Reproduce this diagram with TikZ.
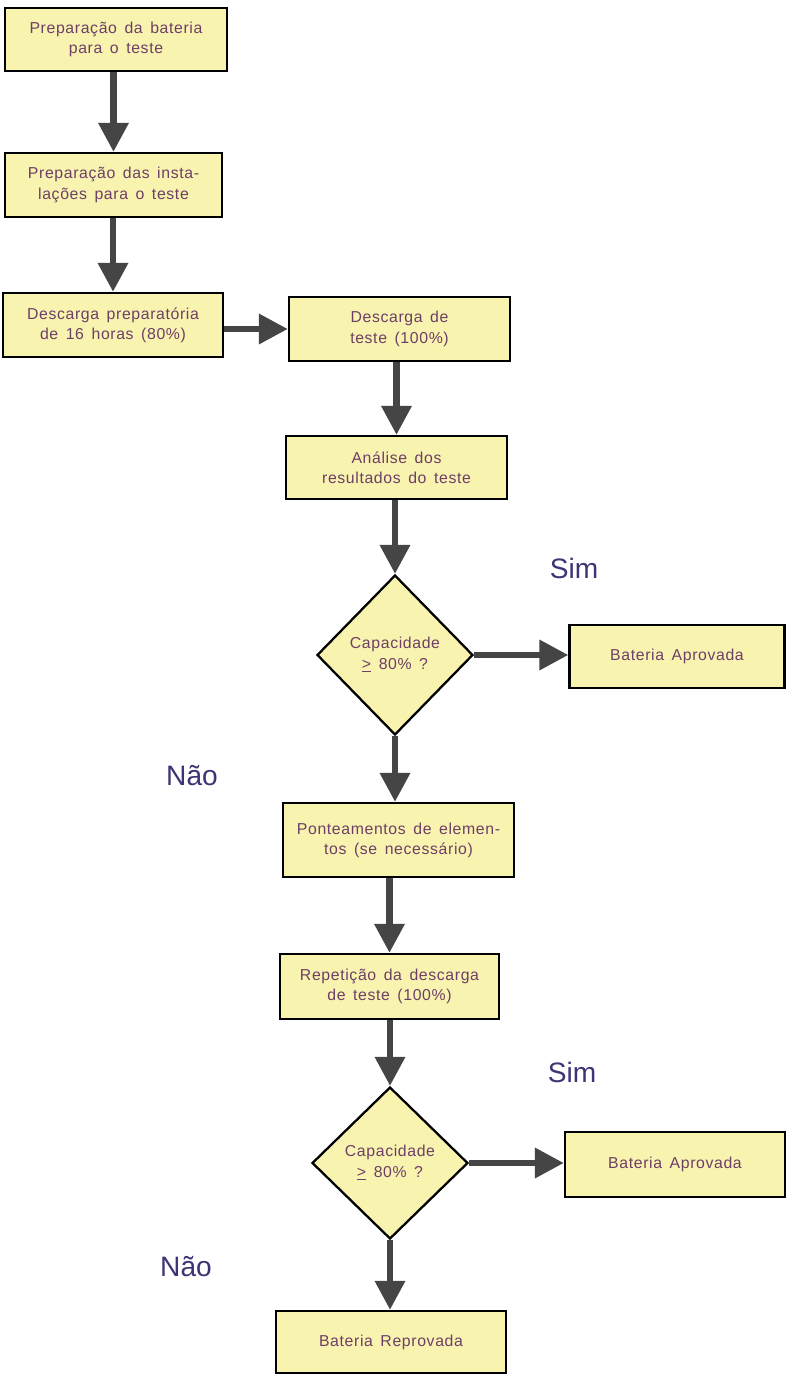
\documentclass[tikz,border=0pt]{standalone}
\usepackage{fontspec}
\setmainfont{Liberation Sans}[LetterSpace=4, WordSpace=1.5]
\newfontfamily\rotfont{Liberation Sans}
\usetikzlibrary{shapes.geometric,arrows.meta}
\definecolor{fcaixa}{HTML}{F9F3B0}
\definecolor{tcaixa}{HTML}{6E3F66}
\definecolor{tseta}{HTML}{454545}
\definecolor{trotulo}{HTML}{3C3475}

\begin{document}
\begin{tikzpicture}[x=0.02cm, y=-0.02cm,
  caixa/.style={draw=black, line width=1.3pt, fill=fcaixa, text=tcaixa, align=center,
    font=\fontsize{9}{11.5}\selectfont, inner sep=0pt},
  losango/.style={caixa, diamond, aspect=1, minimum width=3.12cm},
  seta/.style={draw=tseta, line width=0.13cm, -{Triangle[length=0.58cm, width=0.58cm]}},
  rotulo/.style={text=trotulo, font=\rotfont\fontsize{16}{18}\selectfont}]
  \path[fill=white, use as bounding box] (0,0) rectangle (789,1379);

  % left column: preparation
  \node[caixa, minimum width=4.44cm, minimum height=1.26cm] (prepbat) at (116,39.5)
    {Preparação da bateria\\para o teste};
  \node[caixa, minimum width=4.34cm, minimum height=1.28cm] (prepinst) at (113.5,185)
    {Preparação das insta-\\lações para o teste};
  \node[caixa, minimum width=4.40cm, minimum height=1.28cm] (descprep) at (113,325)
    {Descarga preparatória\\de 16 horas (80\%)};

  % test discharge and first check
  \node[caixa, minimum width=4.42cm, minimum height=1.28cm] (descteste) at (399.5,329)
    {Descarga de\\teste (100\%)};
  \node[caixa, minimum width=4.42cm, minimum height=1.26cm] (analise) at (396.5,467.5)
    {Análise dos\\resultados do teste};
  \node[losango, minimum height=3.2cm] (cap1) at (395,655)
    {Capacidade\\\underline{>} 80\% ?};
  \node[caixa, minimum width=4.30cm, minimum height=1.26cm] (aprov1) at (677,656.5)
    {Bateria Aprovada};

  % repeated discharge and second check
  \node[caixa, minimum width=4.62cm, minimum height=1.48cm] (ponte) at (398.5,840)
    {Ponteamentos de elemen-\\tos (se necessário)};
  \node[caixa, minimum width=4.38cm, minimum height=1.30cm] (repet) at (389.5,986.5)
    {Repetição da descarga\\de teste (100\%)};
  \node[losango, minimum height=3.04cm] (cap2) at (390,1163)
    {Capacidade\\\underline{>} 80\% ?};
  \node[caixa, minimum width=4.40cm, minimum height=1.30cm] (aprov2) at (675,1164.5)
    {Bateria Aprovada};
  \node[caixa, minimum width=4.60cm, minimum height=1.24cm] (reprov) at (391,1342)
    {Bateria Reprovada};

  % yes / no labels
  \node[rotulo] (sim1) at (574,568) {Sim};
  \node[rotulo] (nao1) at (192,776) {Não};
  \node[rotulo] (sim2) at (572,1072) {Sim};
  \node[rotulo] (nao2) at (186,1267) {Não};

  % connectors
  \draw[seta] (prepbat.south -| prepinst) -- (prepinst.north);
  \draw[seta] (prepinst.south -| descprep) -- (descprep.north);
  \draw[seta] (descprep.east |- descteste) -- (descteste.west);
  \draw[seta] (descteste.south -| analise) -- (analise.north);
  \draw[seta] (analise.south -| cap1) -- (cap1.north);
  \draw[seta] (cap1.east) -- (cap1.east -| aprov1.west);
  \draw[seta] (cap1.south) -- (cap1.south |- ponte.north);
  \draw[seta] (ponte.south -| repet) -- (repet.north);
  \draw[seta] (repet.south -| cap2) -- (cap2.north);
  \draw[seta] (cap2.east) -- (cap2.east -| aprov2.west);
  \draw[seta] (cap2.south) -- (cap2.south |- reprov.north);
\end{tikzpicture}
\end{document}
